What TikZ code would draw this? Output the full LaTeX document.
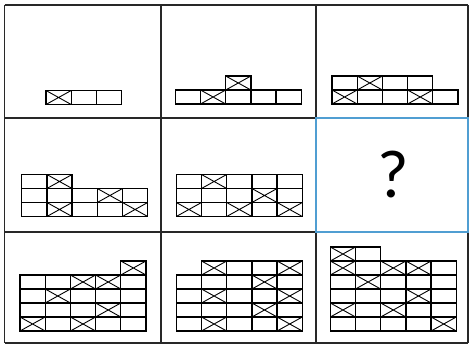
\documentclass[tikz,border=0pt]{standalone}
\usepackage{fontspec}
\newfontfamily\qfont{Carlito}
\definecolor{frameblue}{RGB}{80,158,210}
\definecolor{framegray}{RGB}{40,40,40}
\begin{document}
\begin{tikzpicture}[
			x=1pt, y=1pt,
			frame/.style={draw=framegray, line width=1.7pt},
			answer/.style={draw=frameblue, line width=2.8pt},
			boxline/.style={draw=black, line width=1.3pt},
			xline/.style={draw=black, line width=0.9pt},
			panel/.style={x=25.2pt, y=14pt}
			]
			\useasboundingbox (0,0) rectangle (469,345);
			
			% Frame of the 3x3 table
			\foreach \yy in {2,113,227,340}
			\draw[frame] (4.5,\yy) -- (468,\yy);
			\foreach \xx in {4.5,161,316,468}
			\draw[frame] (\xx,2) -- (\xx,340);
			\draw[answer] (316,113) rectangle (468,227);
			
			% Missing panel
			\node[font=\qfont\fontsize{68}{68}\selectfont, inner sep=0pt] (quest) at (393,170) {?};
			
			% Row 1
			\begin{scope}[shift={(46,240.5)}, panel]
				\foreach \c/\r in {0/0,1/0,2/0}
				\draw[boxline] (\c,\r) rectangle ++(1,1);
				\foreach \c/\r in {0/0}
				\draw[xline] (\c,\r) -- ++(1,1) (\c+1,\r) -- ++(-1,1);
			\end{scope}
			\begin{scope}[shift={(175.3,241)}, panel]
				\foreach \c/\r in {0/0,1/0,2/0,3/0,4/0,2/1}
				\draw[boxline] (\c,\r) rectangle ++(1,1);
				\foreach \c/\r in {1/0,2/1}
				\draw[xline] (\c,\r) -- ++(1,1) (\c+1,\r) -- ++(-1,1);
			\end{scope}
			\begin{scope}[shift={(332,241)}, panel]
				\foreach \c/\r in {0/0,1/0,2/0,3/0,4/0,0/1,1/1,2/1,3/1}
				\draw[boxline] (\c,\r) rectangle ++(1,1);
				\foreach \c/\r in {0/0,3/0,1/1}
				\draw[xline] (\c,\r) -- ++(1,1) (\c+1,\r) -- ++(-1,1);
			\end{scope}
			
			% Row 2
			\begin{scope}[shift={(21.7,128.5)}, panel]
				\foreach \c in {0,...,4}
				\foreach \r in {0,1}
				\draw[boxline] (\c,\r) rectangle ++(1,1);
				\foreach \c/\r in {0/2,1/2}
				\draw[boxline] (\c,\r) rectangle ++(1,1);
				\foreach \c/\r in {1/0,4/0,3/1,1/2}
				\draw[xline] (\c,\r) -- ++(1,1) (\c+1,\r) -- ++(-1,1);
			\end{scope}
			\begin{scope}[shift={(176.3,128.5)}, panel]
				\foreach \c in {0,...,4}
				\foreach \r in {0,1,2}
				\draw[boxline] (\c,\r) rectangle ++(1,1);
				\foreach \c/\r in {0/0,2/0,4/0,3/1,1/2}
				\draw[xline] (\c,\r) -- ++(1,1) (\c+1,\r) -- ++(-1,1);
			\end{scope}
			
			% Row 3
			\begin{scope}[shift={(20,14)}, panel]
				\foreach \c in {0,...,4}
				\foreach \r in {0,...,3}
				\draw[boxline] (\c,\r) rectangle ++(1,1);
				\draw[boxline] (4,4) rectangle ++(1,1);
				\foreach \c/\r in {0/0,2/0,3/1,1/2,2/3,3/3,4/4}
				\draw[xline] (\c,\r) -- ++(1,1) (\c+1,\r) -- ++(-1,1);
			\end{scope}
			\begin{scope}[shift={(176.3,14)}, panel]
				\foreach \c in {0,...,4}
				\foreach \r in {0,...,3}
				\draw[boxline] (\c,\r) rectangle ++(1,1);
				\foreach \c in {1,...,4}
				\draw[boxline] (\c,4) rectangle ++(1,1);
				\foreach \c/\r in {1/0,4/0,3/1,1/2,4/2,3/3,1/4,4/4}
				\draw[xline] (\c,\r) -- ++(1,1) (\c+1,\r) -- ++(-1,1);
			\end{scope}
			\begin{scope}[shift={(330.3,14)}, panel]
				\foreach \c in {0,...,4}
				\foreach \r in {0,...,4}
				\draw[boxline] (\c,\r) rectangle ++(1,1);
				\foreach \c in {0,1}
				\draw[boxline] (\c,5) rectangle ++(1,1);
				\foreach \c/\r in {4/0,0/1,2/1,3/2,1/3,0/4,2/4,3/4,0/5}
				\draw[xline] (\c,\r) -- ++(1,1) (\c+1,\r) -- ++(-1,1);
			\end{scope}
			
		\end{tikzpicture}
\end{document}
